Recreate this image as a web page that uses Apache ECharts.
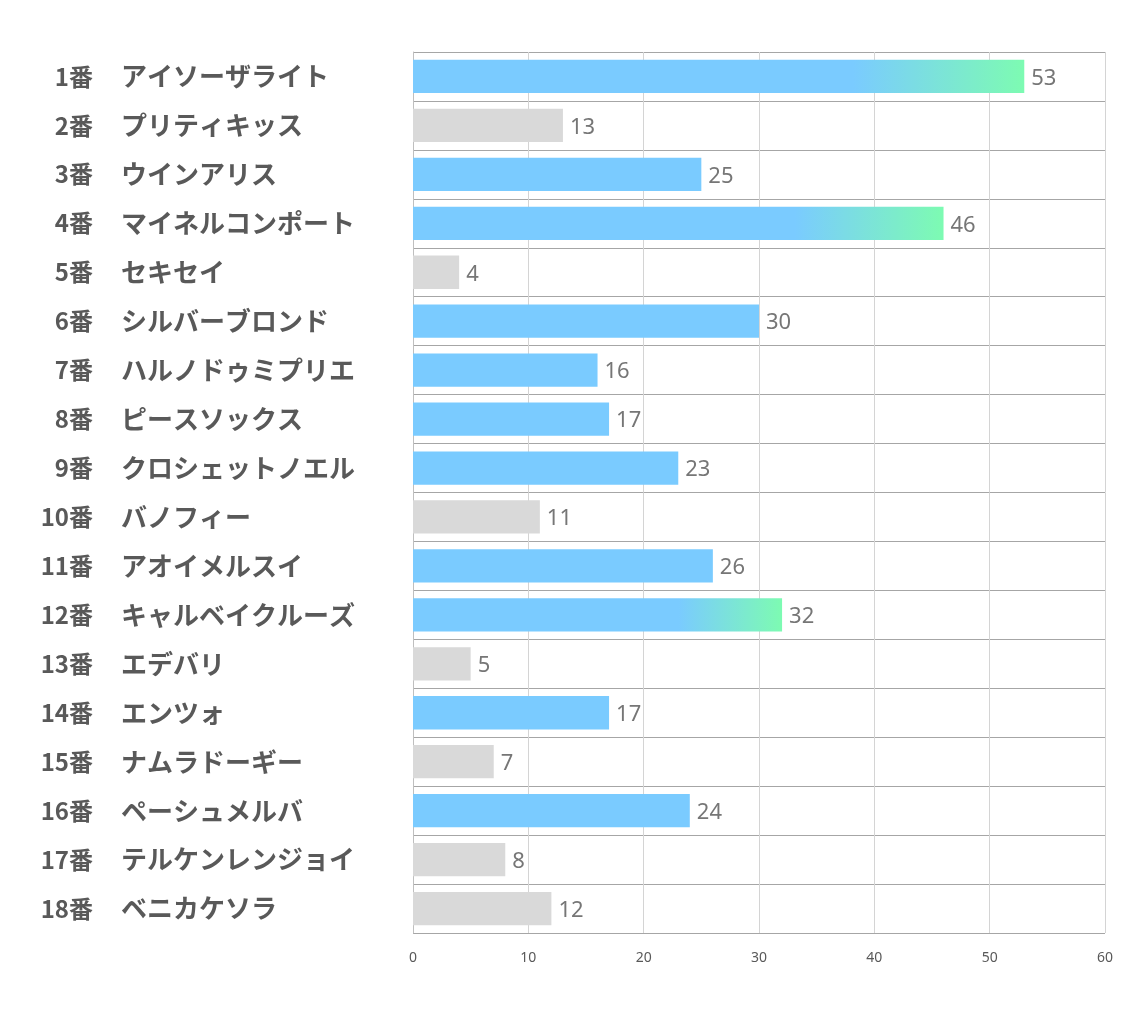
<!DOCTYPE html>
<html><head><meta charset="utf-8">
<script src="https://cdn.jsdelivr.net/npm/echarts@6/dist/echarts.min.js"></script>
<style>html,body{margin:0;padding:0;background:#fff}#c{width:1134px;height:1020px}</style>
</head><body><div id="c"></div>
<script>
var numbers = ['1番','2番','3番','4番','5番','6番','7番','8番','9番','10番','11番','12番','13番','14番','15番','16番','17番','18番'];
var names = ['アイソーザライト','プリティキッス','ウインアリス','マイネルコンポート','セキセイ','シルバーブロンド','ハルノドゥミプリエ','ピースソックス','クロシェットノエル','バノフィー','アオイメルスイ','キャルベイクルーズ','エデバリ','エンツォ','ナムラドーギー','ペーシュメルバ','テルケンレンジョイ','ベニカケソラ'];
var values = [53,13,25,46,4,30,16,17,23,11,26,32,5,17,7,24,8,12];
// group: 'top' = highlighted, 'main' = normal, 'low' = greyed
var groups = ['top','low','main','top','low','main','main','main','main','low','main','top','low','main','low','main','low','low'];
var xTicks = [0,10,20,30,40,50,60];

var BLUE = '#7acbff', GREEN = '#7dfbb2', GREY = '#d9d9d9';
function colorFor(g){
  if (g === 'low') return GREY;
  if (g === 'main') return BLUE;
  return {type:'linear', x:0, y:0, x2:1, y2:0, colorStops:[
    {offset:0, color:BLUE},{offset:0.72, color:BLUE},{offset:1, color:GREEN}]};
}
var data = values.map(function(v,i){ return {value:v, itemStyle:{color:colorFor(groups[i])}}; });
var labelFont = {fontWeight:'bold', color:'#595959', fontFamily:'Noto Sans CJK JP'};

var chart = echarts.init(document.getElementById('c'));
chart.setOption({
  animation:false,
  grid:{left:413, right:29, top:52, bottom:87, containLabel:false},
  xAxis:{type:'value', min:xTicks[0], max:xTicks[xTicks.length-1], interval:10,
    axisLine:{show:false}, axisTick:{show:false},
    splitLine:{show:true, lineStyle:{color:'#d4d4d4', width:1}},
    axisLabel:{color:'#595959', fontSize:14, margin:18, fontFamily:'Noto Sans'}},
  yAxis:[
    {type:'category', data:names, inverse:true,
      axisLine:{show:true, lineStyle:{color:'#bfbfbf'}}, axisTick:{show:false},
      splitLine:{show:true, lineStyle:{color:'#a6a6a6', width:1}},
      axisLabel:Object.assign({align:'left', margin:292, fontSize:26}, labelFont)},
    {type:'category', data:numbers, inverse:true, position:'left', offset:0,
      axisLine:{show:false}, axisTick:{show:false}, splitLine:{show:false},
      axisLabel:Object.assign({align:'right', margin:320, fontSize:24}, labelFont)}
  ],
  series:[{type:'bar', data:data, barWidth:'68%', yAxisIndex:0,
    label:{show:true, position:'right', distance:7, offset:[0,2], color:'#767676', fontSize:22, fontFamily:'Noto Sans'}}]
});
</script></body></html>
